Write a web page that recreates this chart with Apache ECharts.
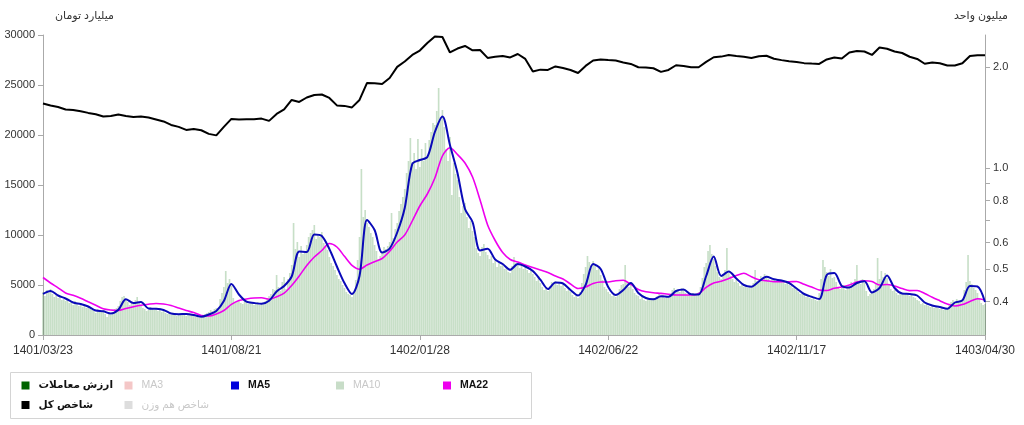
<!DOCTYPE html>
<html><head><meta charset="utf-8">
<script src="https://cdn.jsdelivr.net/npm/echarts@6/dist/echarts.min.js"></script>
<style>html,body{margin:0;padding:0;background:#fff}#c{width:1024px;height:425px}</style>
</head><body><div id="c"></div>
<script>
// x-axis tick labels (every 100 trading days)
const tickLabels = ['1401/03/23','1401/08/21','1402/01/28','1402/06/22','1402/11/17','1403/04/30'];

// daily trade value (billion toman), 501 trading days
const tradeValue = [
4300,3900,4500,4200,4600,4100,3800,4000,3700,3900,3500,3600,3400,3700,3200,3300,3000,3400,3100,2900,
3200,2800,3000,2700,2900,2600,2500,2400,2200,2600,2400,2300,2500,2100,1800,2300,2000,2300,2600,2700,
2900,3400,3800,3900,3500,3300,3000,3200,3100,3500,3800,3300,3000,2700,2600,2400,2500,2800,2700,2500,
2600,2400,2700,2300,2400,2200,2100,2300,2000,2200,2100,1900,2100,2000,2200,2100,1900,2100,2000,2000,
1900,1800,2000,1700,1700,1900,2100,2200,2300,2500,2400,2600,2700,2500,3600,4200,4800,6400,5200,5600,
4900,3700,3300,3400,3500,3200,3100,3400,3300,3100,3200,3300,3000,3100,3300,3000,3200,3100,3400,3700,
3900,4100,4600,4500,6000,4800,4400,5300,5800,4600,5600,6200,7000,11200,8600,9300,7800,8900,8100,8400,
9000,9800,10200,10500,11000,9600,10100,9800,10300,9200,8900,8500,7800,7200,6900,6500,6000,5600,5400,5000,
4700,4300,4100,4000,3800,4200,5500,7500,9800,16600,11800,12500,11200,10800,10200,9800,9000,8400,7600,7900,
8300,8800,8600,8900,9300,12200,9700,10600,11200,12400,13100,13800,14600,16200,17400,19700,17300,18200,16600,19600,
16800,18600,17400,19200,17800,19500,20300,21200,21000,22400,24700,21800,22500,20800,18600,17400,19800,14000,17200,16100,
15500,13800,12200,12900,13200,11800,10700,11400,10400,9800,8700,8200,7900,8800,9100,8300,8000,7600,7900,7200,
7400,6800,7300,6900,7000,6600,6800,6300,6200,6900,7800,7200,7000,6700,7100,6600,6900,6500,6200,6600,
6100,5800,5400,5900,5200,4800,4500,4700,4400,4900,5300,5100,5400,5000,5300,4900,5000,4700,4400,4600,
4300,4000,3800,4100,3700,4300,5200,6100,6800,7900,7300,7000,7400,6900,6500,6700,6000,5500,4800,4600,
4300,4100,3900,4000,3800,4200,4600,5000,5100,7000,5300,4800,5000,4600,4200,4000,3900,3600,3800,3500,
3400,3700,3600,3500,3700,3500,3900,4100,3800,4000,3700,3900,3800,4100,4500,4700,4400,4600,4300,4700,
4500,4200,4000,4100,3900,4200,4000,4100,4300,4800,5700,6800,7200,8400,9000,8100,7600,6900,6300,5800,
5600,6100,6500,8700,6200,5900,5600,5300,5500,5200,4900,5100,4800,5000,4700,4900,4700,5200,6500,5400,
5600,5900,5700,6100,5900,5600,5400,5700,5500,5300,5600,5400,5300,5500,5100,5200,5000,4900,4700,4800,
4500,4300,4100,4200,4000,3800,3900,3700,3600,3800,3500,3400,4200,5600,7500,6800,6300,5900,6600,5700,
5800,5300,4800,4600,4700,5000,4500,4800,4900,5300,5000,5600,7000,5400,5100,5600,5200,4400,3900,4100,
4300,4600,5200,7700,5600,6400,5800,6200,5700,5100,4600,4400,4500,4200,4000,4300,4100,4000,4200,4100,
3900,4100,3800,3700,3500,3400,3100,3200,3000,3200,2900,2800,2900,2700,2800,2700,2600,2800,2500,2700,
2700,3000,3300,3500,3200,3600,3300,3500,3600,4500,5300,8000,5400,5100,4700,4500,4200,3700,3200,3000,
3100
];

// MA5 / MA22 and total index, sampled every 4th trading day (126 points)
const ma5 = [
4100,4400,3950,3650,3250,3100,2850,2450,2370,2150,
2520,3570,3200,3300,2650,2620,2500,2150,2080,2100,
2000,1820,2050,2400,3400,5100,4050,3330,3200,3120,
3420,4350,4900,5850,8350,8300,10050,9900,8600,6850,
5200,4100,5900,11500,10500,8250,8650,10250,12700,17100,
17500,17800,20300,21850,19000,16200,12600,11300,8450,8630,
7550,7100,6520,7100,6850,6400,5530,4600,5250,5150,
4500,3950,5000,7100,6600,4800,4000,4500,5200,4200,
3700,3570,3870,3830,4400,4550,4070,4050,5900,7850,
5900,6350,5650,5000,4830,5350,5820,5570,5450,5200,
4650,4100,3820,3600,6000,6200,4900,4750,5200,5370,
4250,4700,5950,4700,4150,4100,3950,3250,2950,2800,
2620,3250,3470,4900,4850,3300
];
const ma22 = [
5750,5200,4720,4200,3970,3670,3320,2980,2630,2500,
2450,2650,2820,2970,3080,3150,3100,2950,2700,2450,
2250,1950,1900,2100,2450,3060,3450,3600,3700,3720,
3580,3820,4180,4950,5900,6950,7800,8450,9150,8800,
7870,6970,6580,7000,7330,7650,8370,9300,10000,11400,
12900,14100,15700,17900,18720,18050,17200,15800,13500,11000,
9450,8250,7550,7300,7000,6750,6500,6250,5900,5600,
5100,4650,4800,5150,5300,5300,5430,5470,5070,4550,
4320,4230,4160,4080,4000,4000,4000,4130,4770,5200,
5370,5640,5950,6170,5830,5530,5430,5330,5330,5330,
5350,5070,4800,4500,4450,4670,4800,5000,5300,5430,
5350,5000,5050,4900,4650,4440,4450,4150,3770,3430,
3100,2900,3050,3350,3620,3500
];
// total index (million units)
const totalIndex = [
1.559,1.538,1.522,1.496,1.491,1.478,1.461,1.448,1.426,1.431,
1.446,1.431,1.421,1.426,1.416,1.397,1.378,1.345,1.327,1.300,
1.309,1.297,1.265,1.252,1.327,1.402,1.397,1.399,1.399,1.405,
1.383,1.451,1.496,1.597,1.575,1.624,1.652,1.658,1.619,1.538,
1.533,1.517,1.597,1.795,1.791,1.782,1.857,2.003,2.079,2.175,
2.242,2.361,2.469,2.460,2.212,2.273,2.313,2.245,2.250,2.131,
2.148,2.160,2.138,2.189,2.116,1.942,1.966,1.962,2.010,1.989,
1.962,1.922,2.017,2.094,2.109,2.101,2.094,2.066,2.045,1.999,
1.996,1.985,1.936,1.962,2.026,2.017,1.999,1.999,2.073,2.141,
2.150,2.175,2.160,2.148,2.131,2.156,2.163,2.119,2.099,2.084,
2.073,2.056,2.050,2.045,2.109,2.137,2.122,2.212,2.236,2.227,
2.175,2.289,2.269,2.227,2.204,2.148,2.116,2.047,2.066,2.055,
2.023,2.023,2.055,2.160,2.172,2.170
];
// right (log) axis ticks and labelled values
const indexTicks = [0.4,0.5,0.6,0.7,0.8,0.9,1,2];
const indexLabels = [0.4,0.5,0.6,0.8,1,2];

// legend entries
const legendNames = ['ارزش معاملات','MA3','MA5','MA10','MA22','شاخص کل','شاخص هم وزن'];
const legendColors = ['#006400','#f4c7c7','#0000dd','#c8ddc8','#ee00ee','#000000','#dddddd'];
const legendActive = [true,false,true,false,true,true,false];

const days = tradeValue.map((v, i) => i);
const samples = ma5.map((v, i) => i * 4);
const FONT = "'Liberation Sans','DejaVu Sans',sans-serif";

const legendPos = [[21.5,380],[124.5,380],[231,380],[336,380],[443,380],[21.5,399.5],[124.5,399.5]];
const legends = legendNames.map((n, i) => ({
  left: legendPos[i][0], top: legendPos[i][1], padding: 0,
  itemWidth: 8, itemHeight: 8, icon: 'rect', selectedMode: false,
  textStyle: {fontSize: 10.5, color: legendActive[i] ? '#111' : '#c8c8c8',
              fontWeight: legendActive[i] ? 'bold' : 'normal', padding: [0, 0, 0, 4], fontFamily: FONT},
  data: [{name: n, itemStyle: {color: legendColors[i]}}]
}));

const chart = echarts.init(document.getElementById('c'), null, {renderer: 'canvas'});
chart.setOption({
  animation: false,
  textStyle: {fontFamily: FONT},
  grid: {left: 43, right: 39, top: 35, bottom: 90},
  legend: legends,
  graphic: [{type: 'rect', shape: {x: 10.5, y: 372.5, width: 521, height: 46},
             style: {fill: 'none', stroke: '#d4d4d4', lineWidth: 1}, silent: true}],
  xAxis: [
    {
      type: 'category', data: days, boundaryGap: false,
      axisLine: {lineStyle: {color: '#aaaaaa'}},
      axisTick: {interval: 99, length: 5, lineStyle: {color: '#aaaaaa'}},
      axisLabel: {interval: 99, formatter: (v, i) => tickLabels[Math.round(i / 100)], color: '#333', fontSize: 12, margin: 10}
    },
    {type: 'category', data: samples, boundaryGap: false, show: false}
  ],
  yAxis: [
    {
      type: 'value', min: 0, max: 30000, interval: 5000,
      name: 'میلیارد تومان', nameLocation: 'end', nameGap: 14,
      nameTextStyle: {align: 'left', padding: [0, 0, 0, 12], color: '#333', fontSize: 11},
      axisLine: {show: true, lineStyle: {color: '#aaaaaa'}},
      axisTick: {show: true, length: 5, lineStyle: {color: '#aaaaaa'}},
      splitLine: {show: false},
      axisLabel: {color: '#333', fontSize: 11, margin: 8, formatter: v => String(v)}
    },
    {
      type: 'log', logBase: 10, min: 0.318, max: 2.494, position: 'right',
      name: 'میلیون واحد', nameLocation: 'end', nameGap: 14,
      nameTextStyle: {color: '#333', fontSize: 11, padding: [0, 8, 0, 0]},
      axisLine: {show: true, lineStyle: {color: '#aaaaaa'}},
      axisTick: {show: true, length: 5, customValues: indexTicks, lineStyle: {color: '#aaaaaa'}},
      minorTick: {show: false},
      splitLine: {show: false},
      axisLabel: {customValues: indexLabels, color: '#333', fontSize: 11, margin: 8, formatter: v => Number(v).toFixed(1)}
    }
  ],
  series: [
    {name: 'ارزش معاملات', type: 'bar', data: tradeValue, xAxisIndex: 0, yAxisIndex: 0,
     barCategoryGap: '12%', itemStyle: {color: 'rgba(0,110,0,0.22)'}, z: 1},
    {name: 'MA3', type: 'line', data: [], itemStyle: {color: '#f4c7c7'}},
    {name: 'MA5', type: 'line', data: ma5, xAxisIndex: 1, yAxisIndex: 0, symbol: 'none', smooth: 0.3,
     lineStyle: {color: '#0a0ab8', width: 2}, itemStyle: {color: '#0a0ab8'}, z: 4},
    {name: 'MA10', type: 'line', data: [], itemStyle: {color: '#c8ddc8'}},
    {name: 'MA22', type: 'line', data: ma22, xAxisIndex: 1, yAxisIndex: 0, symbol: 'none', smooth: 0.3,
     lineStyle: {color: '#ee00ee', width: 1.6}, itemStyle: {color: '#ee00ee'}, z: 3},
    {name: 'شاخص کل', type: 'line', data: totalIndex, xAxisIndex: 1, yAxisIndex: 1, symbol: 'none',
     lineStyle: {color: '#000000', width: 2}, itemStyle: {color: '#000000'}, z: 5},
    {name: 'شاخص هم وزن', type: 'line', data: [], itemStyle: {color: '#dddddd'}}
  ]
});
</script></body></html>
